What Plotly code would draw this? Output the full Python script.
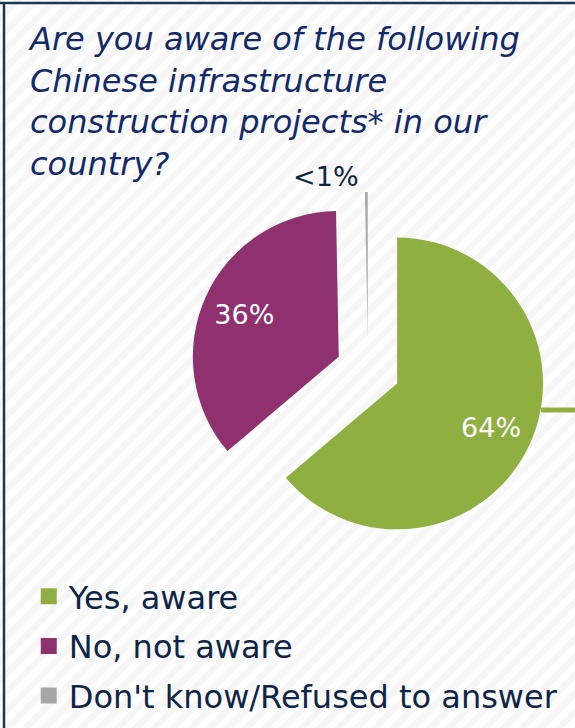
import plotly.graph_objects as go

labels = ["Yes, aware", "No, not aware", "Don't know/Refused to answer"]
values = [64, 36, 0.3]
shown = ["64%", "36%", "<1%"]
colors = ["#8fb040", "#8f316f", "#a6a6a6"]
title_lines = ["Are you aware of the following",
               "Chinese infrastructure",
               "construction projects* in our",
               "country?"]

W, H = 575, 728
navy = "#0f2547"
pie_domain = dict(x=[0.33, 0.95], y=[0.2473, 0.7363])
pulls = [0.22, 0.22, 0.22]

fig = go.Figure()

# striped background over the whole page
fig.add_trace(go.Scatter(
    x=[0, 1, 1, 0, 0], y=[0, 0, 1, 1, 0],
    mode="none", fill="toself", fillcolor="white",
    fillpattern=dict(shape="/", size=13, solidity=0.5,
                     fgcolor="#eeeeee", bgcolor="white"),
    showlegend=False, hoverinfo="skip"
))

# coloured slices
fig.add_trace(go.Pie(
    labels=labels, values=values, textinfo="none",
    marker=dict(colors=colors, line=dict(width=0)),
    pull=pulls, sort=False, direction="clockwise", rotation=0,
    domain=pie_domain, showlegend=False, hoverinfo="label+percent"
))

# transparent ring on top, only to carry the labels further out
fig.add_trace(go.Pie(
    labels=labels, values=values, text=shown,
    texttemplate="%{text}", hole=0.42,
    textposition=["inside", "inside", "outside"],
    insidetextorientation="horizontal",
    insidetextfont=dict(size=27, color="white", family="DejaVu Sans"),
    outsidetextfont=dict(size=27, color=navy, family="DejaVu Sans"),
    marker=dict(colors=["rgba(0,0,0,0)"] * 3, line=dict(width=0)),
    pull=pulls, sort=False, direction="clockwise", rotation=0,
    domain=pie_domain, showlegend=False, hoverinfo="skip"
))

# legend entries
for i, lab in enumerate(labels):
    fig.add_trace(go.Scatter(
        x=[None], y=[None], mode="markers", name=lab,
        legendgroup=f"g{i}",
        marker=dict(symbol="square", size=16, color=colors[i])
    ))

fig.add_annotation(
    text="<i>" + "<br>".join(title_lines) + "</i>",
    xref="paper", yref="paper", x=0.045, y=0.975,
    xanchor="left", yanchor="top", align="left", showarrow=False,
    font=dict(family="DejaVu Sans", size=32, color="#12296a")
)

shapes = [
    dict(type="line", xref="paper", yref="paper", x0=0, x1=1,
         y0=1 - 3 / H, y1=1 - 3 / H, line=dict(color="#1e3656", width=2.5)),
    dict(type="line", xref="paper", yref="paper", x0=4 / W, x1=4 / W,
         y0=0, y1=1 - 3 / H, line=dict(color="#1e3656", width=2.5)),
    dict(type="line", xref="paper", yref="paper", x0=541 / W, x1=1,
         y0=1 - 410 / H, y1=1 - 410 / H, line=dict(color=colors[0], width=5)),
]

fig.update_layout(
    width=W, height=H,
    margin=dict(l=0, r=0, t=0, b=0, autoexpand=False),
    paper_bgcolor="white", plot_bgcolor="white",
    xaxis=dict(visible=False, range=[0, 1], domain=[0, 1], fixedrange=True),
    yaxis=dict(visible=False, range=[0, 1], domain=[0, 1], fixedrange=True),
    showlegend=True,
    legend=dict(x=0.05, y=1 - 569 / H, xanchor="left", yanchor="top",
                bgcolor="rgba(0,0,0,0)", tracegroupgap=5,
                font=dict(family="DejaVu Sans", size=32, color=navy)),
    shapes=shapes
)

fig.write_html("out.html", config={"displayModeBar": False},
               post_script="document.body.style.margin='0';"
                           "document.body.style.overflow='hidden';")
